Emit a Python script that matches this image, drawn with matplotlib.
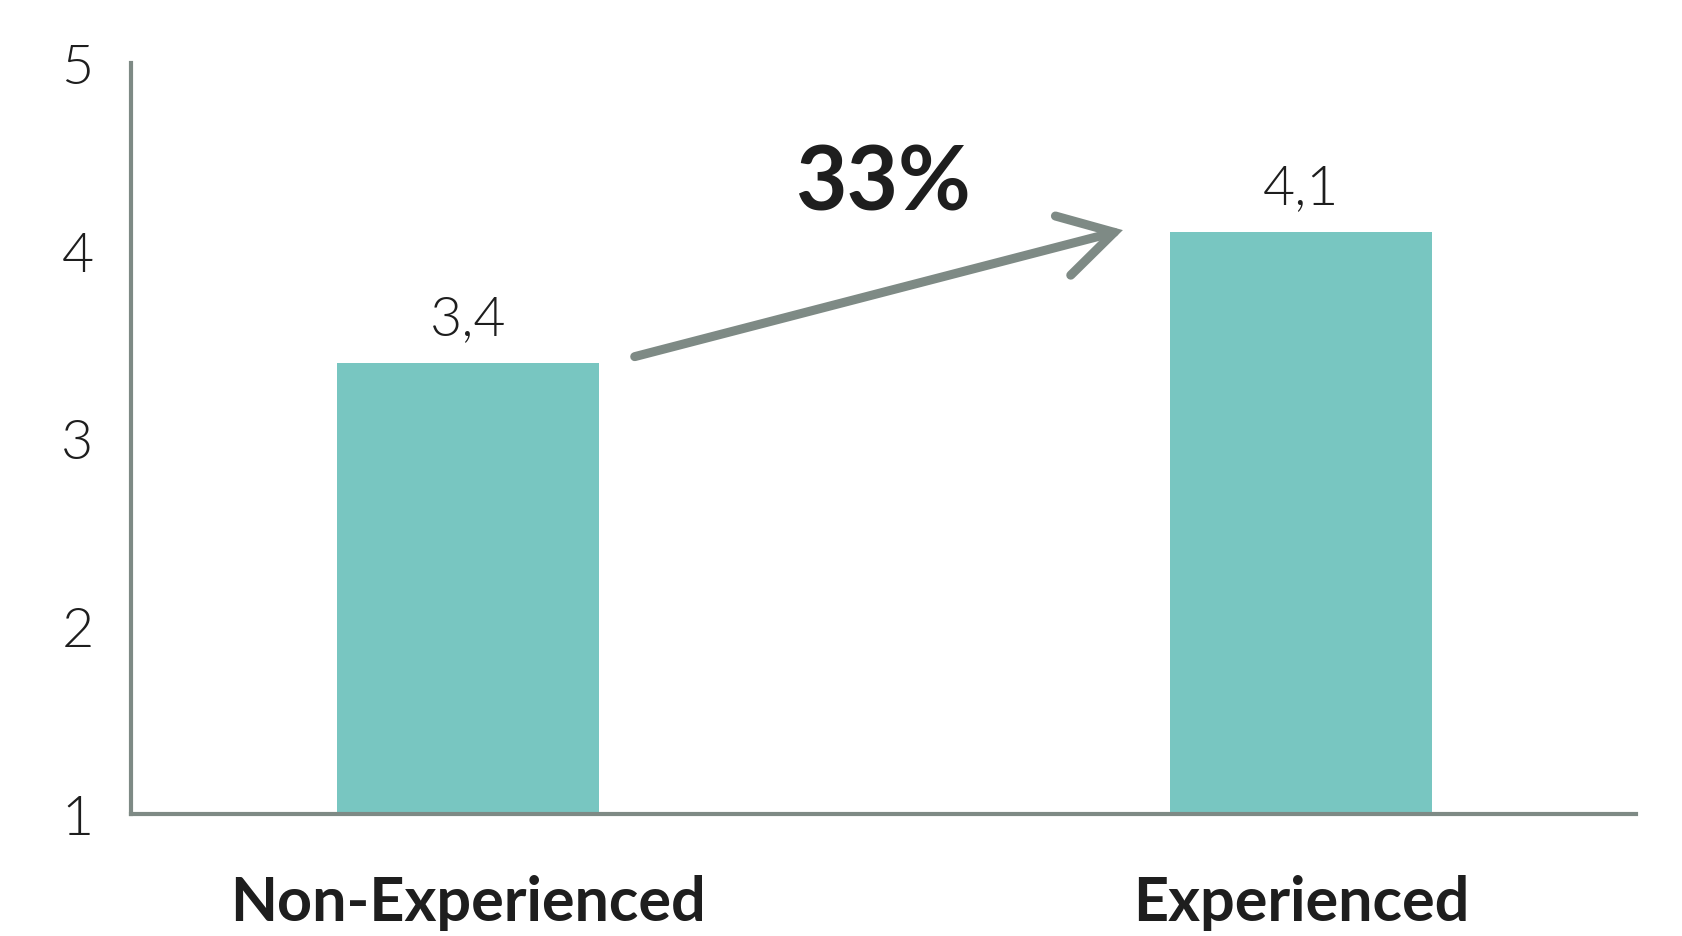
import matplotlib.pyplot as plt
from matplotlib.patches import ArrowStyle

categories = ["Non-Experienced", "Experienced"]
values = [3.4, 4.1]
value_labels = ["3,4", "4,1"]
change_label = "33%"
yticks = [1, 2, 3, 4, 5]

bar_color = "#78c6c1"
axis_color = "#7e8a85"
text_color = "#1e1e1e"

plt.rcParams["font.family"] = ["Lato", "DejaVu Sans"]

fig = plt.figure(figsize=(16.82, 9.37), dpi=100)
ax = fig.add_axes([0.0779, 0.1302, 0.8948, 0.8015])

x = list(range(len(categories)))
ax.bar(x, values, width=0.3145, color=bar_color, bottom=0, zorder=2)
ax.set_xlim(-0.4046, 1.402)
ax.set_ylim(1, 5)

for spine in ["top", "right"]:
    ax.spines[spine].set_visible(False)
for spine in ["left", "bottom"]:
    ax.spines[spine].set_color(axis_color)
    ax.spines[spine].set_linewidth(3)
    ax.spines[spine].set_zorder(3)

ax.set_yticks(yticks)
ax.set_yticklabels([str(t) for t in yticks], fontsize=40, fontweight=300, color=text_color)
ax.set_xticks(x)
ax.set_xticklabels(categories, fontsize=44, fontweight="bold", color=text_color)
ax.tick_params(axis="y", length=0, pad=27)
ax.tick_params(axis="x", length=0, pad=43)

for xi, v, lab in zip(x, values, value_labels):
    ax.annotate(lab, xy=(xi, v), xytext=(0, 21), textcoords="offset points",
                ha="center", va="baseline", fontsize=40, fontweight=300, color=text_color)

# growth arrow between the two bars
start = (x[0] + 0.2, values[0] + 0.036)
end = (x[1] - 0.214, values[1] + 0.01)
ax.annotate("", xy=end, xytext=start,
            arrowprops=dict(arrowstyle=ArrowStyle("->", head_length=38, head_width=22),
                            mutation_scale=1, lw=6.5, color=axis_color,
                            capstyle="round", joinstyle="miter", shrinkA=0, shrinkB=0))
ax.text((start[0] + end[0]) / 2 + 0.005, values[1] + 0.26, change_label,
        ha="center", va="center", fontsize=64, fontweight="bold", color=text_color)

fig.savefig("out.png", dpi=100)
